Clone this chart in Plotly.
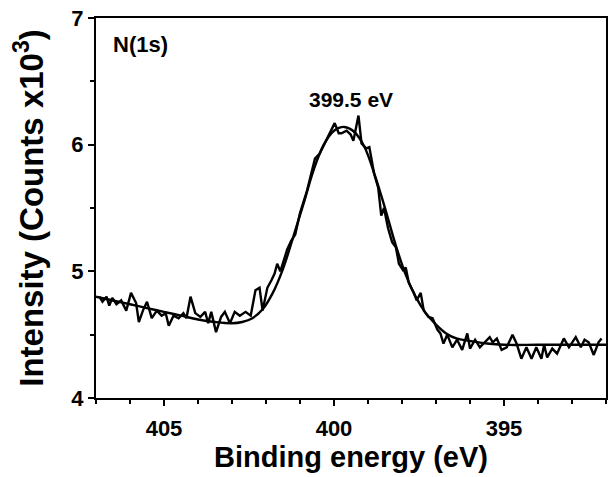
import plotly.graph_objects as go

# Measured spectrum (binding energy in eV, intensity in counts x10^3)
energy = [406.90, 406.81, 406.69, 406.61, 406.52, 406.40, 406.26, 406.11, 405.97, 405.82,
          405.74, 405.62, 405.50, 405.36, 405.21, 405.07, 404.95, 404.86, 404.72, 404.57,
          404.43, 404.34, 404.22, 404.08, 403.93, 403.79, 403.70, 403.61, 403.47, 403.32,
          403.21, 403.06, 402.92, 402.77, 402.60, 402.45, 402.31, 402.19, 402.10, 401.96,
          401.84, 401.75, 401.67, 401.58, 401.46, 401.38, 401.26, 401.14, 401.00, 400.88,
          400.79, 400.68, 400.56, 400.42, 400.27, 400.13, 399.98, 399.86, 399.78, 399.63,
          399.51, 399.43, 399.28, 399.19, 399.05, 398.96, 398.82, 398.70, 398.61, 398.53,
          398.41, 398.29, 398.18, 398.09, 397.97, 397.89, 397.80, 397.65, 397.57, 397.45,
          397.36, 397.22, 397.10, 396.96, 396.87, 396.78, 396.67, 396.52, 396.38, 396.23,
          396.08, 396.00, 395.85, 395.71, 395.56, 395.42, 395.33, 395.21, 395.07, 394.92,
          394.75, 394.63, 394.49, 394.34, 394.19, 394.05, 393.90, 393.82, 393.73, 393.58,
          393.44, 393.24, 393.09, 392.89, 392.74, 392.63, 392.51, 392.36, 392.22, 392.13]
intensity = [4.80, 4.76, 4.80, 4.73, 4.79, 4.74, 4.77, 4.69, 4.83, 4.75,
             4.60, 4.69, 4.76, 4.63, 4.69, 4.65, 4.67, 4.57, 4.65, 4.63,
             4.67, 4.63, 4.80, 4.67, 4.64, 4.68, 4.59, 4.68, 4.52, 4.64,
             4.68, 4.59, 4.68, 4.65, 4.68, 4.65, 4.85, 4.87, 4.69, 4.87,
             4.93, 4.98, 5.06, 5.00, 5.10, 5.17, 5.24, 5.29, 5.46, 5.56,
             5.64, 5.76, 5.89, 5.93, 6.01, 6.09, 6.17, 6.09, 6.09, 6.11,
             6.08, 6.03, 6.23, 6.01, 5.97, 5.98, 5.77, 5.66, 5.44, 5.50,
             5.34, 5.23, 5.19, 5.06, 5.01, 5.03, 4.91, 4.83, 4.77, 4.83,
             4.69, 4.64, 4.63, 4.54, 4.51, 4.43, 4.50, 4.40, 4.46, 4.38,
             4.51, 4.39, 4.46, 4.40, 4.44, 4.48, 4.44, 4.47, 4.38, 4.40,
             4.50, 4.43, 4.31, 4.40, 4.31, 4.40, 4.31, 4.42, 4.32, 4.39,
             4.35, 4.47, 4.40, 4.48, 4.40, 4.46, 4.44, 4.34, 4.44, 4.47]

# Fitted envelope
fit_energy = [407.0, 406.5, 406.0, 405.5, 405.0, 404.5, 404.0, 403.5, 403.0, 402.7,
              402.4, 402.1, 401.8, 401.5, 401.2, 400.9, 400.6, 400.3, 400.0, 399.7,
              399.4, 399.1, 398.8, 398.5, 398.2, 397.9, 397.6, 397.3, 397.0, 396.7,
              396.4, 396.0, 395.5, 395.0, 394.0, 393.0, 392.0]
fit_intensity = [4.80, 4.77, 4.74, 4.71, 4.68, 4.65, 4.62, 4.60, 4.59, 4.60,
                 4.63, 4.70, 4.83, 5.02, 5.27, 5.53, 5.80, 6.00, 6.11, 6.14,
                 6.10, 5.98, 5.76, 5.50, 5.22, 4.98, 4.80, 4.67, 4.58, 4.51,
                 4.47, 4.45, 4.43, 4.42, 4.42, 4.42, 4.42]

x_ticks = [405, 400, 395]
y_ticks = [4, 5, 6, 7]

FONT = "Liberation Sans"

fig = go.Figure()
fig.add_trace(go.Scatter(x=energy, y=intensity, mode="lines",
                         line=dict(color="black", width=2.4), showlegend=False))
fig.add_trace(go.Scatter(x=fit_energy, y=fit_intensity, mode="lines",
                         line=dict(color="black", width=2.4, shape="spline"),
                         showlegend=False))

fig.update_layout(
    width=614, height=477,
    margin=dict(l=96, r=6, t=16, b=79),
    paper_bgcolor="white", plot_bgcolor="white",
    font=dict(family=FONT, color="black"),
    xaxis=dict(
        range=[407, 392], tickvals=x_ticks, ticktext=[str(v) for v in x_ticks],
        showgrid=False, zeroline=False, showline=True, linecolor="black",
        linewidth=2, mirror=True, ticks="outside", ticklen=6, tickwidth=1.5,
        tickcolor="black", ticklabelstandoff=4,
        tickfont=dict(family=FONT, size=22, weight="bold"),
        minor=dict(dtick=1, ticks="outside", ticklen=4, tickwidth=1.5,
                   tickcolor="black", showgrid=False),
        title=dict(text="Binding energy (eV)",
                   font=dict(family=FONT, size=29, weight="bold"), standoff=2),
    ),
    yaxis=dict(
        range=[4, 7], tickvals=y_ticks, ticktext=[str(v) for v in y_ticks],
        showgrid=False, zeroline=False, showline=True, linecolor="black",
        linewidth=2, mirror=True, ticks="outside", ticklen=6, tickwidth=1.5,
        tickcolor="black",
        tickfont=dict(family=FONT, size=22, weight="bold"),
        minor=dict(dtick=0.5, ticks="outside", ticklen=4, tickwidth=1.5,
                   tickcolor="black", showgrid=False),
        title=dict(text="Intensity (Counts x10<sup>3</sup>)",
                   font=dict(family=FONT, size=33, weight="bold"), standoff=18),
    ),
    annotations=[
        dict(text="N(1s)", x=0.03, y=0.93, xref="paper", yref="paper",
             xanchor="left", yanchor="middle", showarrow=False,
             font=dict(family=FONT, size=22, weight="bold")),
        dict(text="399.5 eV", x=399.5, y=6.36, xref="x", yref="y",
             xanchor="center", yanchor="middle", showarrow=False,
             font=dict(family=FONT, size=21, weight="bold")),
    ],
)

fig.write_html("out.html")
